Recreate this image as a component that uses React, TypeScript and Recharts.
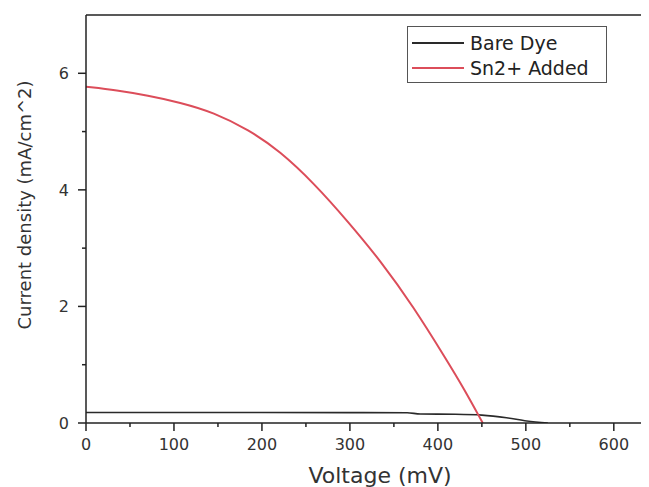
import React from 'react';
import { LineChart, Line, XAxis, YAxis, ReferenceLine } from 'recharts';

// Bare Dye J-V curve (voltage mV, current density mA/cm^2)
const bareVoltage = [0, 100, 200, 300, 365, 380, 420, 450, 478, 501, 525];
const bareCurrent = [0.18, 0.18, 0.18, 0.178, 0.175, 0.155, 0.15, 0.135, 0.09, 0.035, 0];

// Sn2+ Added J-V curve
const snVoltage = [0, 35, 70, 107, 145, 185, 220, 260, 297, 335, 372, 410, 430, 451];
const snCurrent = [5.77, 5.71, 5.62, 5.5, 5.33, 5.03, 4.67, 4.1, 3.47, 2.78, 2.0, 1.08, 0.58, 0];

const seriesNames = ['Bare Dye', 'Sn2+ Added'];
const seriesColors = ['#2a2a2a', '#dc4d5a'];

const xTicks = [0, 50, 100, 150, 200, 250, 300, 350, 400, 450, 500, 550, 600];
const yTicks = [0, 1, 2, 3, 4, 5, 6];

const bareData = bareVoltage.map((v, i) => ({ v, j: bareCurrent[i] }));
const snData = snVoltage.map((v, i) => ({ v, j: snCurrent[i] }));

const FONT = '"DejaVu Sans", Verdana, sans-serif';
const AXIS = '#222';

const XTick = (props: any) => {
  const { x, y, payload } = props;
  const major = payload.value % 100 === 0;
  return (
    <g>
      <line x1={x} x2={x} y1={y} y2={y + (major ? 8 : 4)} stroke={AXIS} strokeWidth={1.5} />
      {major && (
        <text x={x} y={y + 27} textAnchor="middle" fontSize={16} fontFamily={FONT} fill="#333">
          {payload.value}
        </text>
      )}
    </g>
  );
};

const YTick = (props: any) => {
  const { x, y, payload } = props;
  const major = payload.value % 2 === 0;
  return (
    <g>
      <line x1={x} x2={x - (major ? 8 : 4)} y1={y} y2={y} stroke={AXIS} strokeWidth={1.5} />
      {major && (
        <text x={x - 17} y={y} dy="0.36em" textAnchor="end" fontSize={16} fontFamily={FONT} fill="#333">
          {payload.value}
        </text>
      )}
    </g>
  );
};

const XLabel = (props: any) => {
  const vb = props.viewBox || { x: 78, y: 415, width: 563, height: 64 };
  const cx = vb.x + vb.width / 2 + 12.5;
  return (
    <text x={cx} y={vb.y + 60} textAnchor="middle" fontSize={22} fontFamily={FONT} fill="#333">
      Voltage (mV)
    </text>
  );
};

const YLabel = (props: any) => {
  const vb = props.viewBox || { x: 0, y: 7, width: 78, height: 408 };
  const cy = vb.y + vb.height / 2 - 14;
  const cx = 23;
  return (
    <text
      x={cx}
      y={cy}
      textAnchor="middle"
      fontSize={18}
      fontFamily={FONT}
      fill="#333"
      transform={`rotate(-90, ${cx}, ${cy})`}
    >
      Current density (mA/cm^2)
    </text>
  );
};

const LegendBox = () => (
  <div
    style={{
      position: 'absolute',
      left: 399,
      top: 18,
      width: 200,
      height: 57,
      border: '1px solid #555',
      boxSizing: 'border-box',
      background: '#fff',
    }}
  >
    <svg width={198} height={55} style={{ display: 'block' }}>
      {seriesNames.map((name, i) => (
        <g key={name}>
          <line x1={4} x2={56} y1={16 + i * 25} y2={16 + i * 25} stroke={seriesColors[i]} strokeWidth={2} />
          <text x={62} y={23 + i * 25} fontSize={19} fontFamily={FONT} fill="#222">
            {name}
          </text>
        </g>
      ))}
    </svg>
  </div>
);

export default function App() {
  return (
    <div style={{ position: 'relative', width: 641, height: 479 }}>
      <LineChart width={641} height={479} margin={{ top: 7, right: 0, left: 0, bottom: 0 }}>
        <XAxis
          type="number"
          dataKey="v"
          domain={[0, 640]}
          ticks={xTicks}
          interval={0}
          allowDataOverflow
          height={64}
          tickSize={0}
          tickMargin={0}
          tickLine={false}
          tick={<XTick />}
          axisLine={{ stroke: AXIS, strokeWidth: 1.5 }}
          label={{ value: 'Voltage (mV)', content: (p: any) => <XLabel {...p} /> }}
        />
        <YAxis
          type="number"
          dataKey="j"
          domain={[0, 7]}
          ticks={yTicks}
          interval={0}
          allowDataOverflow
          width={78}
          tickSize={0}
          tickMargin={0}
          tickLine={false}
          tick={<YTick />}
          axisLine={{ stroke: AXIS, strokeWidth: 1.5 }}
          label={{ value: 'Current density (mA/cm^2)', content: (p: any) => <YLabel {...p} /> }}
        />
        <ReferenceLine y={7} stroke={AXIS} strokeWidth={1.5} />
        <Line
          data={bareData}
          dataKey="j"
          name={seriesNames[0]}
          type="monotone"
          stroke={seriesColors[0]}
          strokeWidth={1.6}
          dot={false}
          isAnimationActive={false}
        />
        <Line
          data={snData}
          dataKey="j"
          name={seriesNames[1]}
          type="basis"
          stroke={seriesColors[1]}
          strokeWidth={2}
          dot={false}
          isAnimationActive={false}
        />
      </LineChart>
      <LegendBox />
    </div>
  );
}
